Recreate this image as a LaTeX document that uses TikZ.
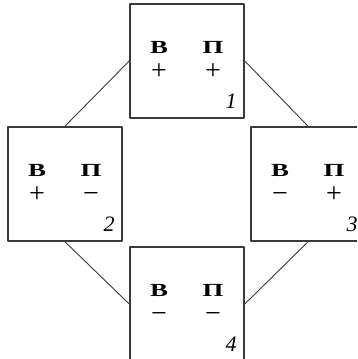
\documentclass[tikz,border=0pt]{standalone}
\usepackage{fontspec}
\setmainfont{Liberation Serif}
\newfontfamily\wideserif[FakeStretch=1.45]{Liberation Serif}
\usetikzlibrary{calc}
\definecolor{framegray}{HTML}{3A3A3A}
\newcommand\lettrfont{\wideserif\fontsize{18.5}{20}\selectfont\bfseries}
\newcommand\signfont{\fontsize{28}{30}\selectfont}
\newcommand\numfont{\fontsize{22}{24}\selectfont\itshape}

\begin{document}
\begin{tikzpicture}[
		x=1pt, y=1pt,
		line cap=round,
		line join=round,
		box/.style={draw=framegray, line width=1.6pt, minimum width=114pt, minimum height=114pt, inner sep=0pt},
		link/.style={draw=framegray, line width=0.9pt},
		lettr/.style={font=\lettrfont, inner sep=0pt},
		sign/.style={font=\signfont, inner sep=0pt, anchor=base, text height=14pt, text depth=0pt},
		num/.style={font=\numfont, inner sep=0pt}
		]
		\begin{scope}
		\clip (0,0) rectangle (357,359);
		
		% four states
		\foreach \k/\x/\y/\sb/\sp in {1/187/298/+/+, 2/65/175/+/−, 3/308/175/−/+, 4/187/55/−/−} {
			\node[box] (box\k) at (\x,\y) {};
			\node[lettr] (b\k) at ($(box\k)+(-28,14)$) {В};
			\node[lettr] (p\k) at ($(box\k)+(26,14)$) {П};
			\node[sign] (sb\k) at ($(box\k)+(-28,-18.5)$) {\sb};
			\node[sign] (sp\k) at ($(box\k)+(26,-18.5)$) {\sp};
			\node[num] (n\k) at ($(box\k)+(44,-40)$) {\k};
		}
		
		% links between states
		\draw[link] (box1.west) -- (box2.north);
		\draw[link] (box1.east) -- (box3.north);
		\draw[link] (box2.south) -- (box4.west);
		\draw[link] (box3.south) -- (box4.east);
		\end{scope}
		
		\pgfresetboundingbox
		\useasboundingbox (0,0) rectangle (357,359);
	\end{tikzpicture}
\end{document}
